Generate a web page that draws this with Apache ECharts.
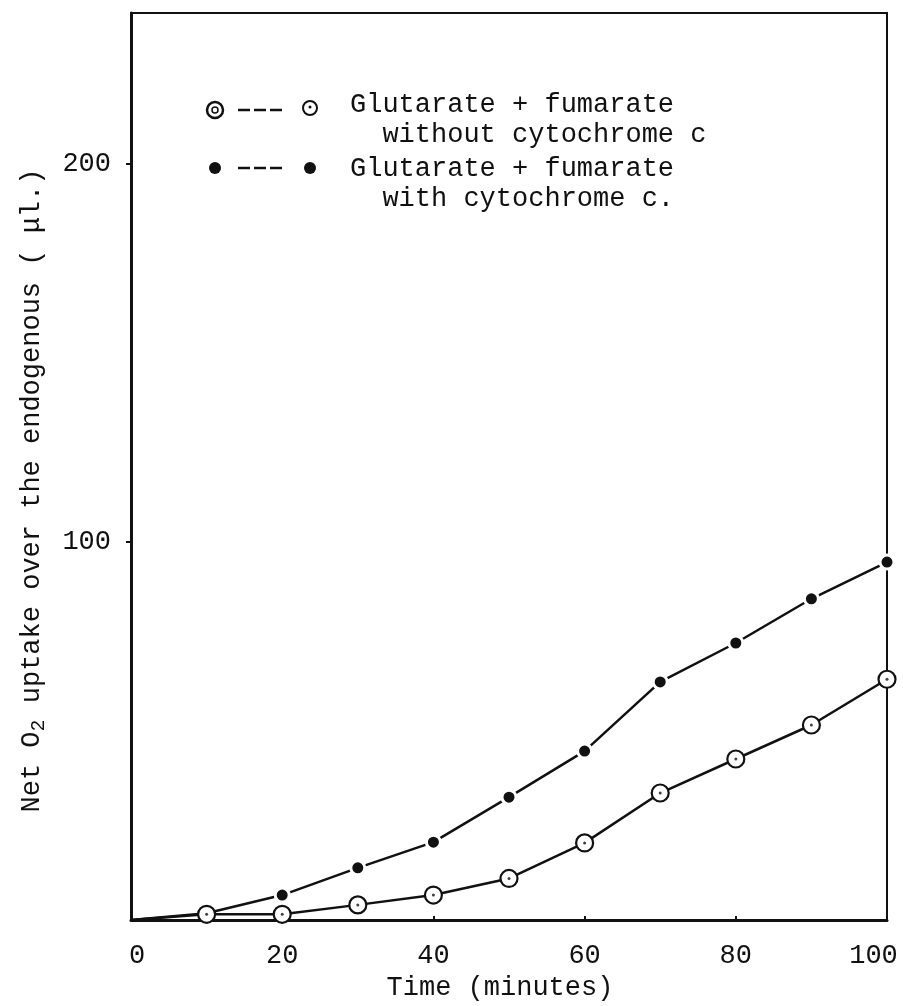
<!DOCTYPE html>
<html>
<head>
<meta charset="utf-8">
<script src="https://cdn.jsdelivr.net/npm/echarts@6/dist/echarts.min.js"></script>
<style>
html,body{margin:0;padding:0;background:#fff;}
#chart{width:903px;height:1006px;}
</style>
</head>
<body>
<div id="chart"></div>
<script>
// ---- data ----
const timeMinutes = [0, 10, 20, 30, 40, 50, 60, 70, 80, 90, 100];
const withoutCytochrome = [0, 1.5, 1.5, 4, 6.6, 11, 20.4, 33.6, 42.6, 51.6, 63.7];
const withCytochrome = [0, 1.8, 6.6, 13.8, 20.6, 32.5, 44.7, 63, 73.3, 85, 94.7];
const xTicks = [0, 20, 40, 60, 80, 100];
const yTicks = [100, 200];
const seriesNames = ['Glutarate + fumarate without cytochrome c', 'Glutarate + fumarate with cytochrome c.'];

const FONT = '"Liberation Mono", "DejaVu Sans Mono", monospace';
const INK = '#111';

function pairs(xs, ys) {
  return xs.map((x, i) => (i === 0 ? { value: [x, ys[i]], symbol: 'none' } : [x, ys[i]]));
}

const chart = echarts.init(document.getElementById('chart'), null, { renderer: 'canvas' });

const option = {
  backgroundColor: '#fff',
  animation: false,
  grid: {
    left: 131, right: 16, top: 13, bottom: 86,
    show: true, borderColor: INK, borderWidth: 2
  },
  xAxis: {
    type: 'value', min: 0, max: 100, interval: 20,
    name: 'Time (minutes)', nameLocation: 'middle', nameGap: 54,
    nameTextStyle: { fontFamily: FONT, fontSize: 27, color: INK, padding: [0, 18, 0, 0] },
    axisLine: { show: true, lineStyle: { color: INK, width: 3 } },
    axisTick: { show: true, length: 4, inside: true, lineStyle: { color: INK, width: 2 } },
    splitLine: { show: false },
    axisLabel: {
      margin: 22, fontFamily: FONT, fontSize: 27, color: INK,
      formatter: function (v) {
        if (xTicks.indexOf(v) < 0) return '';
        if (v === xTicks[0]) return '{a|' + v + '}';
        return v === xTicks[xTicks.length - 1] ? '{m|' + v + '}' : String(v);
      },
      rich: {
        a: { fontFamily: FONT, fontSize: 27, color: INK, padding: [0, 0, 0, 12] },
        m: { fontFamily: FONT, fontSize: 27, color: INK, padding: [0, 27, 0, 0] }
      }
    }
  },
  yAxis: {
    type: 'value', min: 0, max: 240, interval: 100,
    name: 'Net O{s|2} uptake over the endogenous ( μl.)',
    nameLocation: 'middle', nameRotate: 90, nameGap: 82,
    nameTextStyle: {
      fontFamily: FONT, fontSize: 27, color: INK, padding: [0, 48, 0, 0],
      rich: {
        s: { fontFamily: FONT, fontSize: 20, color: INK, verticalAlign: 'bottom', padding: [14, 0, 0, 0] }
      }
    },
    axisLine: { show: true, lineStyle: { color: INK, width: 3 } },
    axisTick: { show: true, length: 5, lineStyle: { color: INK, width: 2 } },
    splitLine: { show: false },
    axisLabel: {
      margin: 20, fontFamily: FONT, fontSize: 27, color: INK,
      showMinLabel: false, showMaxLabel: false,
      formatter: function (v) { return yTicks.indexOf(v) >= 0 ? String(v) : ''; }
    }
  },
  series: [
    {
      name: seriesNames[1], type: 'line', data: pairs(timeMinutes, withCytochrome),
      symbol: 'circle', symbolSize: 14,
      lineStyle: { color: INK, width: 2.5 },
      itemStyle: { color: INK, borderColor: '#fff', borderWidth: 3 },
      z: 2
    },
    {
      name: seriesNames[0], type: 'line', data: pairs(timeMinutes, withoutCytochrome),
      symbol: 'circle', symbolSize: 17,
      lineStyle: { color: INK, width: 2.5 },
      itemStyle: { color: '#fff', borderColor: INK, borderWidth: 2.2 },
      z: 3
    },
    {
      name: seriesNames[0] + ' centre', type: 'scatter',
      data: timeMinutes.map((x, i) => [x, withoutCytochrome[i]]).slice(1),
      symbol: 'circle', symbolSize: 3, silent: true,
      itemStyle: { color: INK }, z: 4
    }
  ],
  graphic: [
    // legend row 1 (open circles)
    { type: 'circle', shape: { cx: 215, cy: 110, r: 8 }, style: { fill: '#fff', stroke: INK, lineWidth: 2.5 } },
    { type: 'circle', shape: { cx: 215, cy: 110, r: 3 }, style: { fill: '#fff', stroke: INK, lineWidth: 1.5 } },
    { type: 'line', shape: { x1: 238, y1: 110, x2: 285, y2: 110 }, style: { stroke: INK, lineWidth: 2.5, lineDash: [12, 4] } },
    { type: 'circle', shape: { cx: 310, cy: 108, r: 7 }, style: { fill: '#fff', stroke: INK, lineWidth: 2 } },
    { type: 'circle', shape: { cx: 310, cy: 107, r: 1.5 }, style: { fill: INK } },
    { type: 'text', left: 350, top: 90, style: { text: 'Glutarate + fumarate\n  without cytochrome c', font: '27px ' + FONT, fill: INK, lineHeight: 30 } },
    // legend row 2 (filled circles)
    { type: 'circle', shape: { cx: 215, cy: 168, r: 6 }, style: { fill: INK } },
    { type: 'line', shape: { x1: 238, y1: 168, x2: 285, y2: 168 }, style: { stroke: INK, lineWidth: 2.5, lineDash: [12, 4] } },
    { type: 'circle', shape: { cx: 310, cy: 168, r: 6 }, style: { fill: INK } },
    { type: 'text', left: 350, top: 154, style: { text: 'Glutarate + fumarate\n  with cytochrome c.', font: '27px ' + FONT, fill: INK, lineHeight: 30 } }
  ]
};

chart.setOption(option);
</script>
</body>
</html>
